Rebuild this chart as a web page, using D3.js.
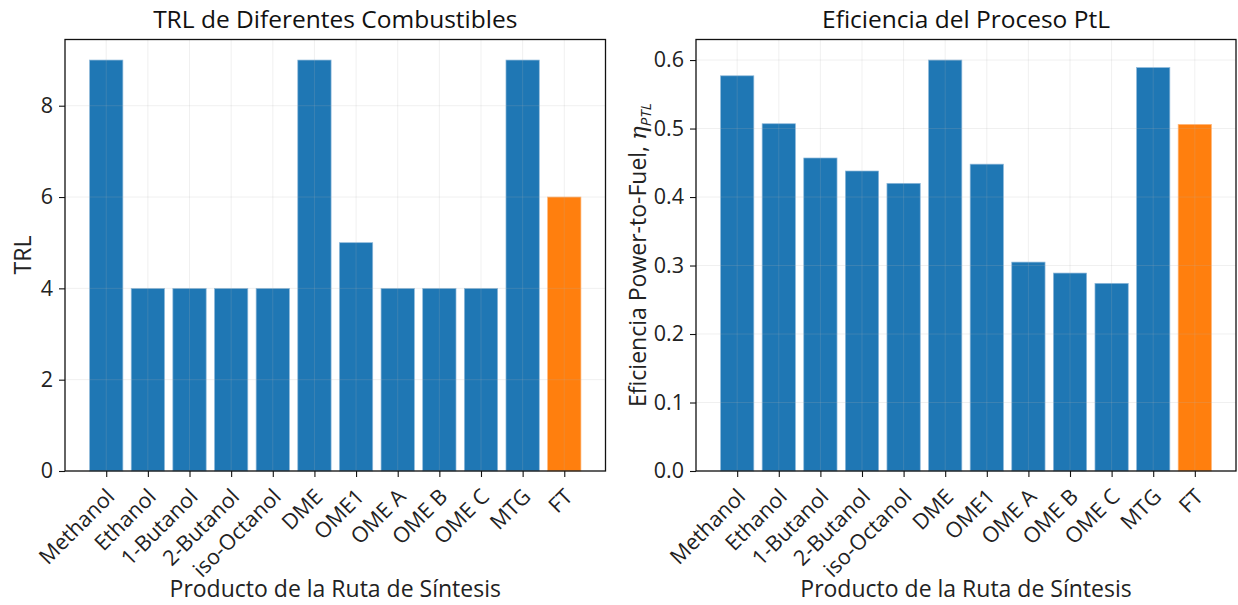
<!DOCTYPE html>
<html>
<head>
<meta charset="utf-8">
<script src="https://cdn.jsdelivr.net/npm/d3@7"></script>
<style>
  body { margin: 0; background: #fff; }
  svg { font-family: "Open Sans", "DejaVu Sans", sans-serif; }
</style>
</head>
<body>
<svg id="chart" width="1238" height="605"></svg>
<script>
// Synthesis route products
const categories = ["Methanol", "Ethanol", "1-Butanol", "2-Butanol", "iso-Octanol", "DME",
                    "OME1", "OME A", "OME B", "OME C", "MTG", "FT"];
// Technology readiness level per product
const trlValues = [9, 4, 4, 4, 4, 9, 5, 4, 4, 4, 9, 6];
// Power-to-liquid process efficiency per product
const ptlEfficiency = [0.577, 0.507, 0.457, 0.438, 0.420, 0.600, 0.448, 0.305, 0.289, 0.274, 0.589, 0.506];
// Highlighted product
const highlight = "FT";
const trlTicks = [0, 2, 4, 6, 8];
const effTicks = [0, 0.1, 0.2, 0.3, 0.4, 0.5, 0.6];

const svg = d3.select("#chart");
const blue = "#1f77b4", orange = "#ff7f0e";
const tickFont = 21.5, labelFont = 23, titleFont = 24.5;

function panel(opts) {
  const { left, right, top, bottom, values, yMax, ticks, fmt, title } = opts;
  const g = svg.append("g");
  const n = categories.length;
  // bars span [-0.4, n-0.6]; 5% margin on both sides
  const span = (n - 1) + 0.8;
  const x = d3.scaleLinear().domain([-0.4 - 0.05 * span, n - 0.6 + 0.05 * span]).range([left, right]);
  const y = d3.scaleLinear().domain([0, yMax]).range([bottom, top]);

  // bars
  g.selectAll("rect.bar").data(values).join("rect")
    .attr("class", "bar")
    .attr("x", (d, i) => x(i - 0.4))
    .attr("width", x(0.8) - x(0))
    .attr("y", d => y(d))
    .attr("height", d => y(0) - y(d))
    .attr("fill", (d, i) => categories[i] === highlight ? orange : blue)
    .attr("stroke", (d, i) => categories[i] === highlight ? "#ffb77a" : "#8fb9da")
    .attr("stroke-width", 0.7);

  // grid lines, drawn above the bars
  const grid = g.append("g").attr("stroke", "#b0b0b0").attr("stroke-opacity", 0.22).attr("stroke-width", 0.9);
  categories.forEach((c, i) => {
    grid.append("line").attr("x1", x(i)).attr("x2", x(i)).attr("y1", top).attr("y2", bottom);
  });
  ticks.forEach(t => {
    grid.append("line").attr("x1", left).attr("x2", right).attr("y1", y(t)).attr("y2", y(t));
  });

  // frame
  g.append("rect").attr("x", left).attr("y", top).attr("width", right - left).attr("height", bottom - top)
    .attr("fill", "none").attr("stroke", "#111").attr("stroke-width", 1.3);

  // y axis
  const ya = d3.axisLeft(y).tickValues(ticks).tickFormat(fmt).tickSizeOuter(0).tickSize(6).tickPadding(6);
  const yg = g.append("g").attr("transform", `translate(${left},0)`).call(ya);
  yg.select(".domain").remove();
  yg.selectAll("line").attr("stroke", "#111").attr("stroke-width", 1.1);
  yg.selectAll("text").attr("font-size", tickFont).attr("fill", "#222")
    .attr("font-family", "Open Sans, sans-serif");

  // x axis with 45° labels ending just right of each tick
  const xa = d3.axisBottom(x).tickValues(d3.range(n)).tickFormat(i => categories[i]).tickSizeOuter(0).tickSize(6);
  const xg = g.append("g").attr("transform", `translate(0,${bottom})`).call(xa);
  xg.select(".domain").remove();
  xg.selectAll("line").attr("stroke", "#111").attr("stroke-width", 1.1);
  xg.selectAll("text")
    .attr("font-size", tickFont).attr("fill", "#222")
    .attr("font-family", "Open Sans, sans-serif")
    .attr("text-anchor", "end")
    .attr("x", 0).attr("y", 0).attr("dy", 0)
    .attr("transform", "translate(9,27) rotate(-45)");

  // title
  g.append("text").attr("x", (left + right) / 2).attr("y", 28)
    .attr("text-anchor", "middle").attr("font-size", titleFont).attr("fill", "#111").text(title);

  // x label
  g.append("text").attr("x", (left + right) / 2).attr("y", 597)
    .attr("text-anchor", "middle").attr("font-size", labelFont).attr("fill", "#222")
    .text("Producto de la Ruta de Síntesis");
  return { g, y };
}

const p1 = panel({ left: 65, right: 605.5, top: 39.5, bottom: 471, values: trlValues,
  yMax: 9 * 1.05, ticks: trlTicks, fmt: d3.format("d"), title: "TRL de Diferentes Combustibles" });
p1.g.append("text").attr("transform", "translate(31,255) rotate(-90)")
  .attr("text-anchor", "middle").attr("font-size", labelFont).attr("fill", "#222").text("TRL");

const p2 = panel({ left: 696, right: 1236, top: 39.5, bottom: 471, values: ptlEfficiency,
  yMax: 0.6 * 1.05, ticks: effTicks, fmt: d3.format(".1f"), title: "Eficiencia del Proceso PtL" });
const yl = p2.g.append("text").attr("transform", "translate(646,255) rotate(-90)")
  .attr("text-anchor", "middle").attr("font-size", labelFont).attr("fill", "#222");
yl.append("tspan").text("Eficiencia Power-to-Fuel, ");
yl.append("tspan").attr("font-style", "italic").attr("font-family", "DejaVu Serif, serif").text("η");
yl.append("tspan").attr("font-style", "italic").attr("font-size", 15).attr("dy", 5).text("PTL");
</script>
</body>
</html>
